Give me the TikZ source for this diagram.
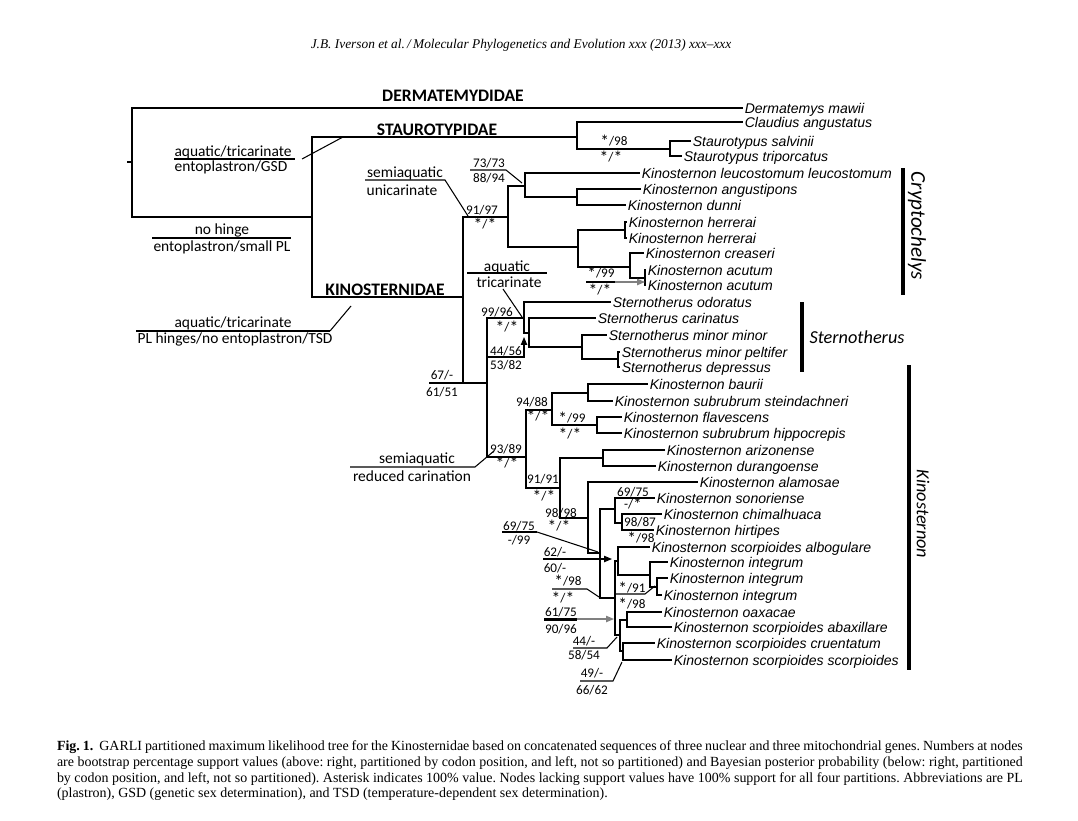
\documentclass[tikz,border=0pt]{standalone}
\usepackage{fontspec}
\setmainfont{Liberation Serif}
\setsansfont{Liberation Sans}
\newfontfamily\calib{Carlito}
\usetikzlibrary{arrows.meta}
\newcommand{\astm}{\raisebox{-0.3ex}{\fontsize{10}{10}\selectfont *}}

\begin{document}
\begin{tikzpicture}[x=0.02cm, y=-0.02cm, inner sep=0, outer sep=0,
    branch/.style={line width=1.2pt},
    thinline/.style={line width=0.6pt},
    thickline/.style={line width=1.7pt},
    tip/.style={-{Triangle[length=4.5pt, width=3.6pt]}},
    taxon/.style={anchor=west, inner sep=1pt, text height=5.8pt, text depth=0pt,
      font=\sffamily\itshape\fontsize{8}{9}\selectfont},
    value/.style={font=\calib\fontsize{7.5}{8}\selectfont},
    trait/.style={font=\calib\fontsize{8.8}{10}\selectfont},
    family/.style={font=\calib\bfseries\fontsize{10}{12}\selectfont},
    genus/.style={font=\calib\itshape\fontsize{10.4}{12}\selectfont},
    caption/.style={anchor=west, font=\frenchspacing\fontsize{7.95}{9}\selectfont}]
  \useasboundingbox (0,0) rectangle (1078,821);
  \fill[white] (0,0) rectangle (1078,821);

  \node[font=\itshape\fontsize{7.6}{9}\selectfont] (head) at (521,45)
    {J.B. Iverson et al.\,/\,Molecular Phylogenetics and Evolution xxx (2013) xxx--xxx};

  % taxa
  \node[taxon] (dmaw)  at (743,108) {Dermatemys mawii};
  \node[taxon] (ccla)  at (743,122) {Claudius angustatus};
  \node[taxon] (ssal)  at (691,141) {Staurotypus salvinii};
  \node[taxon] (stri)  at (682,156) {Staurotypus triporcatus};
  \node[taxon] (kleu)  at (640,173) {Kinosternon leucostomum leucostomum};
  \node[taxon] (kang)  at (641,189) {Kinosternon angustipons};
  \node[taxon] (kdun)  at (626,205) {Kinosternon dunni};
  \node[taxon] (kher1) at (627,222) {Kinosternon herrerai};
  \node[taxon] (kher2) at (627,238) {Kinosternon herrerai};
  \node[taxon] (kcre)  at (644,253) {Kinosternon creaseri};
  \node[taxon] (kacu1) at (646,270) {Kinosternon acutum};
  \node[taxon] (kacu2) at (646,285) {Kinosternon acutum};
  \node[taxon] (sodo)  at (611,302) {Sternotherus odoratus};
  \node[taxon] (scari) at (596,318) {Sternotherus carinatus};
  \node[taxon] (smm)   at (607,335) {Sternotherus minor minor};
  \node[taxon] (spel)  at (620,352) {Sternotherus minor peltifer};
  \node[taxon] (sdep)  at (620,367) {Sternotherus depressus};
  \node[taxon] (kbau)  at (648,384) {Kinosternon baurii};
  \node[taxon] (kste)  at (613,401) {Kinosternon subrubrum steindachneri};
  \node[taxon] (kfla)  at (622,417) {Kinosternon flavescens};
  \node[taxon] (khip)  at (622,433) {Kinosternon subrubrum hippocrepis};
  \node[taxon] (kari)  at (665,450) {Kinosternon arizonense};
  \node[taxon] (kdur)  at (656,466) {Kinosternon durangoense};
  \node[taxon] (kala)  at (698,482) {Kinosternon alamosae};
  \node[taxon] (kson)  at (655,498) {Kinosternon sonoriense};
  \node[taxon] (kchi)  at (662,514) {Kinosternon chimalhuaca};
  \node[taxon] (khir)  at (654,530) {Kinosternon hirtipes};
  \node[taxon] (kalb)  at (650,547) {Kinosternon scorpioides albogulare};
  \node[taxon] (kint1) at (668,562) {Kinosternon integrum};
  \node[taxon] (kint2) at (668,578) {Kinosternon integrum};
  \node[taxon] (kint3) at (662,595) {Kinosternon integrum};
  \node[taxon] (koax)  at (662,612) {Kinosternon oaxacae};
  \node[taxon] (kaba)  at (672,627) {Kinosternon scorpioides abaxillare};
  \node[taxon] (kcru)  at (655,643) {Kinosternon scorpioides cruentatum};
  \node[taxon] (ksco)  at (672,660) {Kinosternon scorpioides scorpioides};

  % internal nodes
  \coordinate (rstub) at (127,162);
  \coordinate (root)  at (132,162);
  \coordinate (nbase) at (312,217);
  \coordinate (nstau) at (577,137);
  \coordinate (nstsp) at (670,149);
  \coordinate (nkino) at (463,297);
  \coordinate (ncry)  at (508,217);
  \coordinate (nleu)  at (525,186);
  \coordinate (nangd) at (577,197);
  \coordinate (nher)  at (578,247);
  \coordinate (nherr) at (625,230);
  \coordinate (ncre)  at (630,267);
  \coordinate (nacu)  at (645,278);
  \coordinate (n67)   at (487,383);
  \coordinate (nster) at (524,318);
  \coordinate (ncar)  at (529,333);
  \coordinate (nmin)  at (582,347);
  \coordinate (npel)  at (618,359);
  \coordinate (n93)   at (526,457);
  \coordinate (n94)   at (552,410);
  \coordinate (nbau)  at (588,393);
  \coordinate (nfla)  at (597,425);
  \coordinate (n91)   at (560,488);
  \coordinate (nari)  at (603,458);
  \coordinate (n98)   at (588,518);
  \coordinate (nsc)   at (600,553);
  \coordinate (nson)  at (615,509);
  \coordinate (nchi)  at (622,523);
  \coordinate (nscb)  at (615,598);
  \coordinate (nalb)  at (618,561);
  \coordinate (nint)  at (650,575);
  \coordinate (nint2) at (657,587);
  \coordinate (nsca)  at (620,635);
  \coordinate (noax)  at (627,620);
  \coordinate (ncru)  at (623,651);

  % branches
  \draw[branch] (rstub) -- (root);
  \draw[branch] (root) |- (dmaw) (root) |- (nbase);
  \draw[branch] (nbase) |- (nstau) (nbase) |- (nkino);
  \draw[branch] (nstau) |- (ccla) (nstau) |- (nstsp);
  \draw[branch] (nstsp) |- (ssal) (nstsp) |- (stri);
  \draw[branch] (nkino) |- (ncry) (nkino) |- (n67);
  \draw[branch] (ncry) |- (nleu) (ncry) |- (nher);
  \draw[branch] (nleu) |- (kleu) (nleu) |- (nangd);
  \draw[branch] (nangd) |- (kang) (nangd) |- (kdun);
  \draw[branch] (nher) |- (nherr) (nher) |- (ncre);
  \draw[branch] (nherr) |- (kher1) (nherr) |- (kher2);
  \draw[branch] (ncre) |- (kcre) (ncre) |- (nacu);
  \draw[branch] (nacu) |- (kacu1) (nacu) |- (kacu2);
  \draw[branch] (n67) |- (nster) (n67) |- (n93);
  \draw[branch] (nster) |- (sodo) (nster) |- (ncar);
  \draw[branch] (ncar) |- (scari) (ncar) |- (nmin);
  \draw[branch] (nmin) |- (smm) (nmin) |- (npel);
  \draw[branch] (npel) |- (spel) (npel) |- (sdep);
  \draw[branch] (n93) |- (n94) (n93) |- (n91);
  \draw[branch] (n94) |- (nbau) (n94) |- (nfla);
  \draw[branch] (nbau) |- (kbau) (nbau) |- (kste);
  \draw[branch] (nfla) |- (kfla) (nfla) |- (khip);
  \draw[branch] (n91) |- (nari) (n91) |- (n98);
  \draw[branch] (nari) |- (kari) (nari) |- (kdur);
  \draw[branch] (n98) |- (kala) (n98) |- (nsc);
  \draw[branch] (nsc) |- (nson) (nsc) |- (nscb);
  \draw[branch] (nson) |- (kson) (nson) |- (nchi);
  \draw[branch] (nchi) |- (kchi) (nchi) |- (khir);
  \draw[branch] (nscb) |- (nalb) (nscb) |- (nsca);
  \draw[branch] (nalb) |- (kalb) (nalb) |- (nint);
  \draw[branch] (nint) |- (kint1) (nint) |- (nint2);
  \draw[branch] (nint2) |- (kint2) (nint2) |- (kint3);
  \draw[branch] (nsca) |- (noax) (nsca) |- (ncru);
  \draw[branch] (noax) |- (koax) (noax) |- (kaba);
  \draw[branch] (ncru) |- (kcru) (ncru) |- (ksco);

  % families
  \node[family] (fder) at (453,96) {DERMATEMYDIDAE};
  \node[family] (fsta) at (437,130) {STAUROTYPIDAE};
  \node[family] (fkin) at (385,290) {KINOSTERNIDAE};

  % character states
  \node[trait] (tgsdt) at (233,152) {aquatic/tricarinate};
  \node[trait] (tgsdb) at (231,167) {entoplastron/GSD};
  \draw[thinline] (174,159) -- (295,159);
  \draw[thinline] (302,159) -- (343,137);
  \node[trait] (thint) at (222,230) {no hinge};
  \node[trait] (thinb) at (222,247) {entoplastron/small PL};
  \draw[thickline] (152,238) -- (291,238);
  \node[trait] (tunit) at (405,173) {semiaquatic};
  \node[trait] (tunib) at (402,190) {unicarinate};
  \draw[thinline] (365,180) -- (445,180) -- ([shift={(5,-1)}]nkino |- ncry);
  \node[trait] (ttrit) at (507,267) {aquatic};
  \node[trait] (ttrib) at (509,282) {tricarinate};
  \draw[thinline] (467,273) -- (547,273);
  \draw[thinline] (503,289) -- ([shift={(-2,-1)}]nster);
  \node[trait] (ttsdt) at (233,323) {aquatic/tricarinate};
  \node[trait] (ttsdb) at (235,339) {PL hinges/no entoplastron/TSD};
  \draw[thickline] (136,331) -- (330,331);
  \draw[thinline] (330,331) -- (351,306);
  \node[trait] (tredt) at (417,459) {semiaquatic};
  \node[trait] (tredb) at (412,476) {reduced carination};
  \draw[thinline] (350,467) -- (475,467) -- (494,451);

  % support values
  \node[value] (bsstsp) at (614,141) {\astm/98};
  \node[value] (ppstsp) at (611,157) {\astm/\astm};
  \node[value] (bsleu) at (489,163) {73/73};
  \node[value] (ppleu) at (489,178) {88/94};
  \draw[thinline] (470,170) -- (506,170) -- ([shift={(-3,-3)}]nleu);
  \node[value] (bscry) at (482,210) {91/97};
  \node[value] (ppcry) at (485,224) {\astm/\astm};
  \node[value] (bsacu) at (601,273) {\astm/99};
  \node[value] (ppacu) at (600,290) {\astm/\astm};
  \draw[thinline] (586,282) -- (615,282);
  \draw[thinline, gray, tip] (615,282) -- (nacu |- 615,282);
  \node[value] (bsster) at (497,312) {99/96};
  \node[value] (ppster) at (507,327) {\astm/\astm};
  \node[value] (bscar) at (506,351) {44/56};
  \node[value] (ppcar) at (506,365) {53/82};
  \draw[thinline, tip] (488,357) -- (524,357) -- (524,337);
  \node[value] (bs67) at (442,375) {67/-};
  \node[value] (pp67) at (442,392) {61/51};
  \draw[branch] (429,383) -- (nkino |- n67);
  \node[value] (bs94) at (532,402) {94/88};
  \node[value] (pp94) at (538,416) {\astm/\astm};
  \node[value] (bsfla) at (572,418) {\astm/99};
  \node[value] (ppfla) at (570,434) {\astm/\astm};
  \node[value] (bs93) at (506,449) {93/89};
  \node[value] (pp93) at (507,463) {\astm/\astm};
  \node[value] (bs91) at (543,479) {91/91};
  \node[value] (pp91) at (544,496) {\astm/\astm};
  \node[value] (bs98) at (561,513) {98/98};
  \node[value] (pp98) at (559,526) {\astm/\astm};
  \node[value] (bsson) at (633,492) {69/75};
  \node[value] (ppson) at (633,504) {-/\astm};
  \node[value] (bschi) at (640,522) {98/87};
  \node[value] (ppchi) at (641,538) {\astm/98};
  \node[value] (bssc) at (519,526) {69/75};
  \node[value] (ppsc) at (519,540) {-/99};
  \draw[thickline] (502,532) -- (537,532);
  \draw[thinline] (537,532) -- ([shift={(-2,-1)}]nsc);
  \node[value] (bsalb) at (555,552) {62/-};
  \node[value] (ppalb) at (555,568) {60/-};
  \draw[thinline] (543,559) -- (575,559);
  \draw[thinline, tip] (575,559) -- (612,559);
  \node[value] (bsscb) at (568,581) {\astm/98};
  \node[value] (ppscb) at (563,598) {\astm/\astm};
  \draw[thinline] (552,589) -- (587,589) -- ([shift={(-1,-1)}]nsc |- nscb);
  \node[value] (bsint) at (632,588) {\astm/91};
  \node[value] (ppint) at (632,604) {\astm/98};
  \draw[thinline] (615,594) -- (645,594) -- ([shift={(-2,-1)}]nint2);
  \node[value] (bsoax) at (561,612) {61/75};
  \node[value] (ppoax) at (561,629) {90/96};
  \draw[thickline] (544,619) -- (577,619);
  \draw[thinline, gray, tip] (577,619) -- (614,619);
  \node[value] (bssca) at (584,641) {44/-};
  \node[value] (ppsca) at (584,655) {58/54};
  \draw[thinline] (573,648) -- (607,648) -- ([shift={(-3,2)}]nsca);
  \node[value] (bscru) at (592,673) {49/-};
  \node[value] (ppcru) at (592,690) {66/62};
  \draw[thinline] (580,681) -- (613,681) -- ([shift={(-1,2)}]ncru |- ksco);

  % genera
  \draw[line width=1.8pt] (903,168) -- (903,295);
  \node[genus, font=\calib\itshape\fontsize{12}{14}\selectfont, rotate=-90] (gcry) at (917,226) {Cryptochelys};
  \draw[line width=1.8pt] (802,302) -- (802,372);
  \node[genus] (gste) at (857,337) {Sternotherus};
  \draw[line width=1.8pt] (909,365) -- (909,670);
  \node[genus, rotate=-90] (gkin) at (923,514) {Kinosternon};

  % caption
  \node[caption] (cap1) at (57,747) {\makebox[19.32cm][s]{\textbf{Fig. 1.}\ \ GARLI partitioned maximum likelihood tree for the Kinosternidae based on concatenated sequences of three nuclear and three mitochondrial genes. Numbers at nodes}};
  \node[caption] (cap2) at (57,763) {\makebox[19.32cm][s]{are bootstrap percentage support values (above: right, partitioned by codon position, and left, not so partitioned) and Bayesian posterior probability (below: right, partitioned}};
  \node[caption] (cap3) at (57,779) {\makebox[19.32cm][s]{by codon position, and left, not so partitioned). Asterisk indicates 100\% value. Nodes lacking support values have 100\% support for all four partitions. Abbreviations are PL}};
  \node[caption] (cap4) at (57,794) {(plastron), GSD (genetic sex determination), and TSD (temperature-dependent sex determination).};
\end{tikzpicture}
\end{document}
